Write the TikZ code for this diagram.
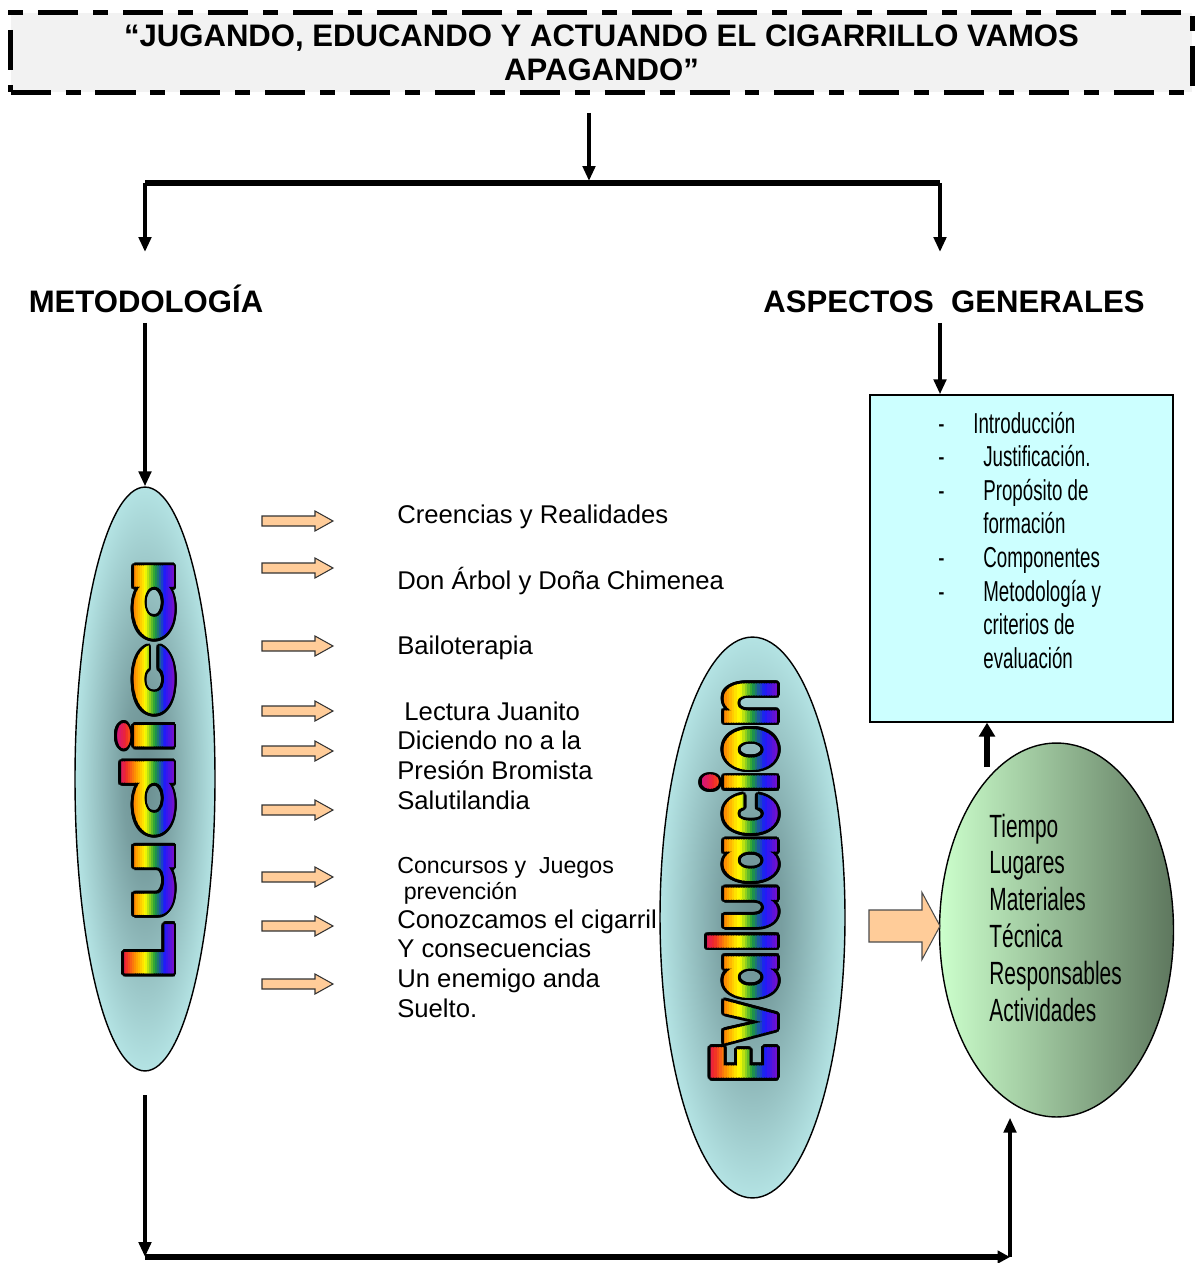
\documentclass[tikz,border=0pt]{standalone}
\usepackage{fontspec}
\setmainfont{Liberation Sans}
\newfontfamily\agencyfont[FakeStretch=0.65]{Liberation Sans}
\newfontfamily\wordartfont{Poppins}
\usepackage{graphicx}
\usepackage{xcolor}
\usetikzlibrary{arrows.meta,shapes.geometric}

\definecolor{cyanfill}{HTML}{CCFFFF}
\definecolor{titlegray}{HTML}{F2F2F2}
\definecolor{peach}{HTML}{FFCC99}
\definecolor{mint}{HTML}{CCFFCC}
\definecolor{sage}{HTML}{5E775E}
\definecolor{glowdark}{HTML}{6A8E90}
\definecolor{rbpink}{HTML}{D4147E}
\definecolor{rbred}{HTML}{F0282A}
\definecolor{rborange}{HTML}{FF9A00}
\definecolor{rbyellow}{HTML}{FFFF00}
\definecolor{rbgreen}{HTML}{1E9E3A}
\definecolor{rbblue}{HTML}{1A1AFF}
\definecolor{rbviolet}{HTML}{7A10C8}

\pgfdeclareradialshading{glow}{\pgfpoint{0bp}{0bp}}{color(0bp)=(glowdark); color(8bp)=(glowdark!85!cyanfill); color(32bp)=(cyanfill); color(50bp)=(cyanfill)}

\newcommand\ludicaword{\wordartfont\bfseries\resizebox{240.7pt}{32.4pt}{Ludica}}
\newcommand\evalword{\wordartfont\bfseries\resizebox{229.3pt}{43pt}{Evaluacion}}

\tikzset{
  smallarrow/.pic={
    \draw[draw=black!80, line width=0.6pt, fill=peach]
      (-35,-5) -- (18,-5) -- (18,-10) -- (36,0) -- (18,10) -- (18,5) -- (-35,5) -- cycle;
  },
  bigarrow/.pic={
    \draw[draw=black!70, line width=0.6pt, fill=peach]
      (-35.5,-16) -- (17.5,-16) -- (17.5,-33.5) -- (35.5,0) -- (17.5,33.5) -- (17.5,16) -- (-35.5,16) -- cycle;
  },
}

\begin{document}
\begin{tikzpicture}[
    x=0.02cm, y=-0.02cm,
    titlebox/.style={
        draw=black,
        line width=2.85pt,
        dash pattern=on 22.8pt off 8.5pt on 8.5pt off 8.5pt,
        fill=titlegray,
        minimum width=23.64cm,
        minimum height=1.6cm,
        align=center,
        font=\fontsize{17.7}{19.4}\selectfont\bfseries,
    },
    heading/.style={anchor=base, font=\fontsize{17.7}{20}\selectfont\bfseries},
    conn/.style={line width=2.2pt, -{Triangle[length=8.5pt,width=7pt]}},
    bus/.style={line width=3.4pt},
    ovalcyan/.style={ellipse, draw, line width=0.8pt, shade, shading=glow},
    ovalgreen/.style={ellipse, draw, line width=0.8pt, left color=mint, right color=sage},
    infobox/.style={draw, line width=0.8pt, fill=cyanfill,
        minimum width=6.06cm, minimum height=6.54cm},
    item/.style={anchor=base west, inner sep=0pt,
        font=\fontsize{14.6}{17.07}\selectfont},
    smallitem/.style={anchor=base west, inner sep=0pt,
        font=\fontsize{13.2}{14.8}\selectfont},
    listtext/.style={anchor=base west, inner sep=0pt},
    wordink/.style={inner sep=0pt, rotate=90, text=black},
]
\useasboundingbox (0,0) rectangle (1202,1263);

\node[titlebox] (title) at (601.5,52.5) {“JUGANDO, EDUCANDO Y ACTUANDO EL CIGARRILLO VAMOS\\APAGANDO”};

\node[heading] (meto) at (146,313) {METODOLOGÍA};
\node[heading] (asp) at (954,313) {ASPECTOS\ \ GENERALES};

% ovals and box
\node[ovalcyan, minimum width=2.8cm, minimum height=11.68cm] (lud) at (145,779) {};
\node[infobox] (gen) at (1021.5,558.5) {};
\node[ovalgreen, minimum width=4.68cm, minimum height=7.48cm] (green) at (1056.5,930) {};

% activities
\foreach \yy in {521,568,646,711,751,810,877,926,984}
  \pic at (297,\yy) {smallarrow};

\node[item] (cre) at (397,523) {Creencias y Realidades};
\node[item] (arb) at (397,589) {Don Árbol y Doña Chimenea};
\node[item] (bai) at (397,654) {Bailoterapia};
\node[item] (lec) at (397,720) {\begin{tabular}[t]{@{}l@{}}\ Lectura Juanito\\Diciendo no a la\\Presión Bromista\\Salutilandia\end{tabular}};
\node[smallitem] (con) at (397,873) {\begin{tabular}[t]{@{}l@{}}Concursos y\ \ Juegos\\\ prevención\end{tabular}};
\node[item] (cig) at (397,928) {\begin{tabular}[t]{@{}l@{}}Conozcamos el cigarril\\Y consecuencias\\Un enemigo anda\\Suelto.\end{tabular}};

\node[ovalcyan, minimum width=3.7cm, minimum height=11.22cm] (eva) at (752.5,917.5) {};

% word art: black outline, then rainbow bands
\foreach \ang in {0,20,...,340}
  \node[wordink, shift={(\ang:1.6pt)}] at (146,770) {\ludicaword};
\foreach \ang in {0,20,...,340}
  \node[wordink, shift={(\ang:1.6pt)}] at (740,881) {\evalword};

\foreach \ca/\cb [count=\s from 0] in {rbpink/rbred,rbred/rborange,rborange/rbyellow,rbyellow/rbgreen,rbgreen/rbblue,rbblue/rbviolet}
  \foreach \k in {0,...,4} {
    \pgfmathsetmacro\pctb{10+20*\k}
    \pgfmathsetmacro\xl{117.5+9.49*\s+1.898*\k}
    \pgfmathsetmacro\xe{702.2+12.6*\s+2.52*\k}
    \begin{scope}
      \clip (\xl,530) rectangle (\xl+2.3,1010);
      \node[wordink, text=\cb!\pctb!\ca] (ludword) at (146,770) {\ludicaword};
    \end{scope}
    \begin{scope}
      \clip (\xe,650) rectangle (\xe+2.9,1110);
      \node[wordink, text=\cb!\pctb!\ca] (evaword) at (740,881) {\evalword};
    \end{scope}
  }

\node[listtext, font=\agencyfont\fontsize{16.4}{19.15}\selectfont] (genlist) at (938,433) {\begin{tabular}[t]{@{}p{25.6pt}@{}l@{}}
- & \hspace{-5.7pt}Introducción\\
- & Justificación.\\
- & Propósito de\\
  & formación\\
- & Componentes\\
- & Metodología y\\
  & criterios de\\
  & evaluación
\end{tabular}};

\node[listtext, font=\agencyfont\fontsize{18.3}{21.05}\selectfont] (reslist) at (989,837) {\begin{tabular}[t]{@{}l@{}}
Tiempo\\Lugares\\Materiales\\Técnica\\Responsables\\Actividades
\end{tabular}};

\pic at (904.5,926) {bigarrow};

% connectors
\coordinate (ttop) at (589,113);
\coordinate (split) at (589,181);
\coordinate (lsplit) at (145,183);
\coordinate (rsplit) at (940,183);
\coordinate (metotop) at (145,252);
\coordinate (asptop) at (940,252);
\coordinate (metobot) at (145,323);
\coordinate (aspbot) at (940,323);
\coordinate (grtop) at (987,767);
\coordinate (ludbot) at (145,1095);
\coordinate (lcorner) at (145,1257);
\coordinate (rcorner) at (1010,1257);

\draw[conn] (ttop) -- (split);
\draw[bus] (lsplit) -- (rsplit);
\draw[conn] (lsplit) -- (metotop);
\draw[conn] (rsplit) -- (asptop);
\draw[conn] (metobot) -- (lud.north);
\draw[conn] (aspbot) -- (aspbot |- gen.north);
\draw[line width=3.2pt, -{Triangle[length=8pt,width=9pt]}] (grtop) -- (grtop |- gen.south);
\draw[conn] (ludbot) -- (lcorner);
\draw[bus, -{Triangle[length=7pt,width=7pt]}] (lcorner) -- (rcorner);
\draw[conn] (rcorner) -- (rcorner |- green.south);

\end{tikzpicture}
\end{document}
